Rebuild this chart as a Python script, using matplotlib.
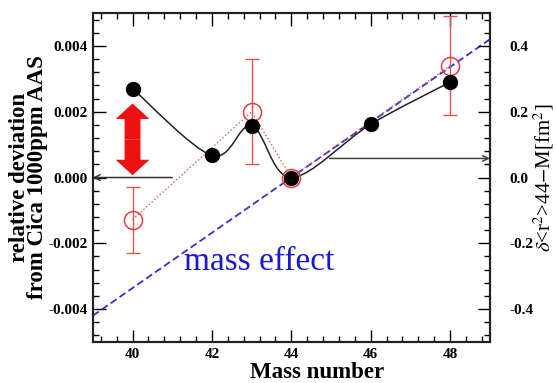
import numpy as np
import matplotlib
matplotlib.use("Agg")
import matplotlib.pyplot as plt
from matplotlib.path import Path
from matplotlib.patches import PathPatch, FancyArrow
from matplotlib.ticker import AutoMinorLocator

# ---- data ----
mass_black = [40, 42, 43, 44, 46, 48]
dev_black = [0.0027, 0.00067, 0.00157, 0.0, 0.00162, 0.0029]

mass_red = [40, 43, 44, 48]
dev_red = [-0.00128, 0.00200, 0.0, 0.00340]
err_red = [0.00100, 0.00160, 0.0, 0.00150]

mass_effect_x = [39, 49]
mass_effect_y = [-0.0042, 0.0042]

x_ticks = [40, 42, 44, 46, 48]
y_ticks = [-0.004, -0.002, 0.0, 0.002, 0.004]
y_ticklabels = ["-0.004", "-0.002", "0.000", "0.002", "0.004"]
r_ticks = [-0.4, -0.2, 0.0, 0.2, 0.4]
r_ticklabels = ["-0.4", "-0.2", "0.0", "0.2", "0.4"]

plt.rcParams['font.family'] = ['Liberation Serif', 'DejaVu Serif']
plt.rcParams['mathtext.fontset'] = 'stix'

fig = plt.figure(figsize=(5.56, 3.83), dpi=100)
ax = fig.add_axes([0.167, 0.107, 0.714, 0.859])
ax.set_xlim(39, 49)
ax.set_ylim(-0.005, 0.005)

# smooth black curve (Catmull-Rom as cubic Bezier segments)
P = np.column_stack([mass_black, dev_black]).astype(float)
verts = [tuple(P[0])]
codes = [Path.MOVETO]
n = len(P)
for i in range(n - 1):
    p0 = P[i - 1] if i > 0 else P[i]
    p1 = P[i]
    p2 = P[i + 1]
    p3 = P[i + 2] if i + 2 < n else P[i + 1]
    c1 = p1 + (p2 - p0) / 6.0
    c2 = p2 - (p3 - p1) / 6.0
    verts += [tuple(c1), tuple(c2), tuple(p2)]
    codes += [Path.CURVE4] * 3
ax.add_patch(PathPatch(Path(verts, codes), fill=False, edgecolor='#222222', lw=1.1, zorder=3))

# mass effect line
ax.plot(mass_effect_x, mass_effect_y, ls=(0, (4, 2)), color='#3333cc', lw=1.3, zorder=2)

# red dotted + open circles with error bars
ax.plot(mass_red, dev_red, ls=':', color='#ee5555', lw=1.0, zorder=2)
ax.errorbar(mass_red, dev_red, yerr=err_red, fmt='none', ecolor='#dd5555',
            elinewidth=1.0, capsize=5, capthick=1.0, zorder=2)
ax.plot(mass_red, dev_red, 'o', ms=13, mfc='none', mec='#e04040', mew=1.1, zorder=4)

# black points
ax.plot(mass_black, dev_black, 'o', ms=10, color='black', zorder=5)

# red double arrow
mid = 0.00116
for d in (+1, -1):
    ax.add_patch(FancyArrow(40, mid, 0, d * (0.00225 - mid), width=0.40,
                            head_width=0.85, head_length=0.00047,
                            length_includes_head=True, color='#ee1111', lw=0, zorder=4))

# horizontal axis-pointer arrows
ax.annotate('', xy=(39.0, 0.0), xytext=(41.0, 0.0),
            arrowprops=dict(arrowstyle='->', color='#333333', lw=1.1,
                            shrinkA=0, shrinkB=0), zorder=3)
ax.annotate('', xy=(49.0, 0.00058), xytext=(44.96, 0.00058),
            arrowprops=dict(arrowstyle='->', color='#444444', lw=1.1,
                            shrinkA=0, shrinkB=0), zorder=3)

ax.text(41.3, -0.00255, 'mass effect', color='#1a1acc', fontsize=24,
        ha='left', va='center')

# ticks
ax.set_xticks(x_ticks)
ax.xaxis.set_minor_locator(AutoMinorLocator(5))
ax.set_yticks(y_ticks)
ax.set_yticklabels(y_ticklabels)
ax.yaxis.set_minor_locator(AutoMinorLocator(5))
ax.tick_params(which='major', direction='in', length=9, width=1.0,
               top=True, labelsize=11, pad=4)
ax.tick_params(which='minor', direction='in', length=4.5, width=1.0, top=True)
for lab in ax.get_xticklabels() + ax.get_yticklabels():
    lab.set_fontweight('bold')

ax2 = ax.twinx()
ax2.set_ylim(-0.5, 0.5)
ax2.set_yticks(r_ticks)
ax2.set_yticklabels(r_ticklabels)
ax2.yaxis.set_minor_locator(AutoMinorLocator(5))
ax2.tick_params(which='major', direction='in', length=9, width=1.0, labelsize=11, pad=14)
ax2.tick_params(which='minor', direction='in', length=4.5, width=1.0)
for lab in ax2.get_yticklabels():
    lab.set_fontweight('bold')

for a in (ax, ax2):
    for s in a.spines.values():
        s.set_linewidth(1.5)
        s.set_color('#222222')

ax.set_xlabel('Mass number', fontsize=16.5, fontweight='bold')
ax.xaxis.set_label_coords(0.564, -0.06, transform=ax.transAxes)
ax.xaxis.label.set_va('top')
ax.set_ylabel('relative deviation\nfrom Cica 1000ppm AAS', fontsize=16.5,
              fontweight='bold', linespacing=0.8)
ax.yaxis.set_label_coords(-0.114, 0.5)
ax2.set_ylabel(r'$\delta$<r$^2$>44$-$M[fm$^2$]', fontsize=15)
ax2.yaxis.set_label_coords(1.105, 0.5)

fig.savefig('out.png', dpi=100)
